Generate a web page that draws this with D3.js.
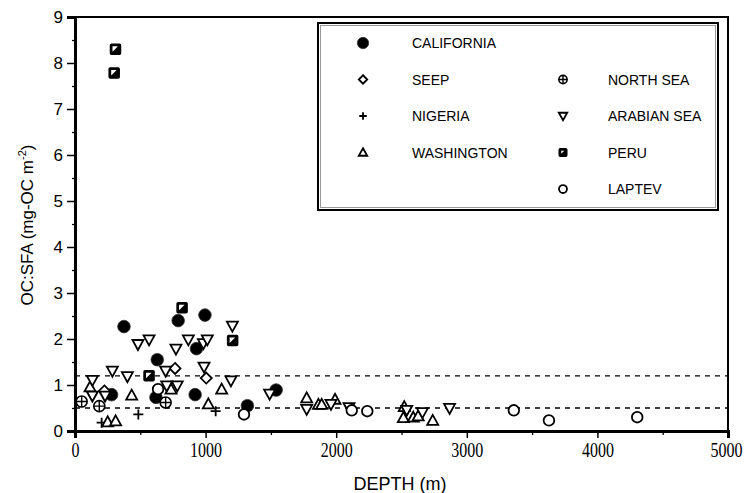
<!DOCTYPE html>
<html>
<head>
<meta charset="utf-8">
<script src="https://cdn.jsdelivr.net/npm/d3@7"></script>
<style>
  body { margin: 0; background: #fff; }
  text { fill: #000; }
</style>
</head>
<body>
<svg id="chart" width="745" height="493"></svg>
<script>
// depth (m), OC:SFA (mg-OC m-2)
let california = [[375,2.27],[790,2.4],[995,2.52],[930,1.79],[630,1.55],[280,0.79],[620,0.73],[920,0.79],[1320,0.55],[1540,0.89]];
let seep = [[225,0.87],[766,1.36],[1005,1.15]];
let nigeria = [[204,0.18],[485,0.36],[1077,0.43]];
let washington = [[434,0.78],[735,0.91],[1123,0.91],[1021,0.59],[250,0.2],[311,0.22],[115,0.96],[1774,0.72],[1864,0.58],[1889,0.58],[1991,0.69],[2521,0.53],[2514,0.29],[2590,0.3],[2628,0.33],[2739,0.23]];
let northSea = [[51,0.64],[186,0.54],[694,0.62]];
let arabianSea = [[1205,2.28],[482,1.88],[567,1.98],[868,1.98],[773,1.78],[983,1.9],[1013,1.98],[988,1.39],[286,1.3],[401,1.18],[133,1.1],[133,0.76],[230,0.76],[694,1.3],[702,0.98],[783,0.98],[1194,1.09],[1490,0.8],[1774,0.47],[1960,0.58],[2098,0.51],[2540,0.45],[2660,0.4],[2868,0.49]];
let peru = [[310,8.3],[300,7.78],[820,2.68],[1207,1.97],[567,1.2]];
let laptev = [[636,0.91],[1294,0.36],[2119,0.45],[2238,0.43],[3360,0.45],[3629,0.23],[4305,0.3]];

let refLines = [1.2, 0.5];
let xTicks = [0,1000,2000,3000,4000,5000];
let yTicks = [0,1,2,3,4,5,6,7,8,9];

let series = [
  {name:'CALIFORNIA', sym:'fcircle', data:california, col:0, row:0},
  {name:'SEEP', sym:'diamond', data:seep, col:0, row:1},
  {name:'NIGERIA', sym:'plus', data:nigeria, col:0, row:2},
  {name:'WASHINGTON', sym:'tri', data:washington, col:0, row:3},
  {name:'NORTH SEA', sym:'ocross', data:northSea, col:1, row:1},
  {name:'ARABIAN SEA', sym:'dtri', data:arabianSea, col:1, row:2},
  {name:'PERU', sym:'square', data:peru, col:1, row:3},
  {name:'LAPTEV', sym:'ocircle', data:laptev, col:1, row:4}
];

let svg = d3.select('#chart');
let mLeft = 75, mRight = 728, mTop = 17, mBottom = 431;

let sx = d3.scaleLinear().domain([0,5000]).range([mLeft,mRight]);
let sy = d3.scaleLinear().domain([0,9]).range([mBottom,mTop]);

// frame
svg.append('rect')
  .attr('x', mLeft).attr('y', mTop)
  .attr('width', mRight-mLeft).attr('height', mBottom-mTop)
  .attr('fill','none').attr('stroke','#000').attr('stroke-width',2);

// dashed reference lines
svg.selectAll('.ref')
  .data(refLines)
  .enter()
  .append('line')
  .attr('x1', sx(0)).attr('x2', sx(5000))
  .attr('y1', d=>sy(d)).attr('y2', d=>sy(d))
  .attr('stroke','#000').attr('stroke-width',1.3)
  .attr('stroke-dasharray','5,5');

// x axis (tall narrow serif digits)
let xAxis = d3.axisBottom(sx).tickValues(xTicks).tickSize(7).tickFormat(d3.format('d'));
let gx = svg.append('g').attr('transform','translate(0,'+mBottom+')').call(xAxis);
gx.select('.domain').attr('stroke-width',3);
gx.selectAll('.tick line').attr('stroke-width',1.5);
gx.selectAll('.tick text')
  .attr('y', 9.6)
  .attr('x', d=>d===5000 ? -2 : 0)
  .attr('transform','scale(1,1.25)')
  .style('font-family','"Liberation Serif", serif')
  .style('font-size','16px');
let gxm = svg.append('g').attr('transform','translate(0,'+mBottom+')')
  .call(d3.axisBottom(sx).tickValues(d3.range(500,5000,1000)).tickSize(4).tickFormat(''));
gxm.select('.domain').remove();
gxm.selectAll('.tick line').attr('stroke-width',1.3);

// y axis
let yAxis = d3.axisLeft(sy).tickValues(yTicks).tickSize(8).tickPadding(4);
let gy = svg.append('g').attr('transform','translate('+mLeft+',0)').call(yAxis);
gy.select('.domain').attr('stroke-width',3);
gy.selectAll('.tick line').attr('stroke-width',1.5);
gy.selectAll('.tick text')
  .style('font-family','"Liberation Sans", Arial, sans-serif')
  .style('font-size','17px');
let gym = svg.append('g').attr('transform','translate('+mLeft+',0)')
  .call(d3.axisLeft(sy).tickValues(d3.range(0.5,9,1)).tickSize(3).tickFormat(''));
gym.select('.domain').remove();
gym.selectAll('.tick line').attr('stroke-width',1.3);

// axis titles
svg.append('text')
  .attr('x', 400).attr('y', 490)
  .attr('text-anchor','middle')
  .style('font-family','"Liberation Sans", Arial, sans-serif')
  .style('font-size','18px')
  .text('DEPTH (m)');

let yt = svg.append('text')
  .attr('transform','translate(33,225) rotate(-90)')
  .attr('text-anchor','middle')
  .style('font-family','"Liberation Sans", Arial, sans-serif')
  .style('font-size','17px');
yt.append('tspan').text('OC:SFA (mg-OC m');
yt.append('tspan').attr('dy',-7).style('font-size','11px').text('-2');
yt.append('tspan').attr('dy',7).text(')');

// marker drawing
function drawSymbol(g, sym, k){
  let s = 5*k;
  if(sym==='fcircle'){
    g.append('circle').attr('r', 6.3*k).attr('fill','#000').attr('stroke','#333').attr('stroke-width',0.8);
  } else if(sym==='ocircle'){
    g.append('circle').attr('r', 5.3*k).attr('fill','#fff').attr('stroke','#000').attr('stroke-width',1.8);
  } else if(sym==='diamond'){
    g.append('path').attr('d','M0,'+(-s-0.5)+'L'+(s+0.5)+',0L0,'+(s+0.5)+'L'+(-s-0.5)+',0Z')
      .attr('fill','#fff').attr('stroke','#000').attr('stroke-width',1.8);
  } else if(sym==='plus'){
    g.append('path').attr('d','M'+(-s)+',0H'+s+'M0,'+(-s)+'V'+s)
      .attr('stroke','#000').attr('stroke-width',1.8);
  } else if(sym==='tri'){
    g.append('path').attr('d','M0,'+(-s-0.5)+'L'+(s+0.5)+','+(s-0.5)+'L'+(-s-0.5)+','+(s-0.5)+'Z')
      .attr('fill','#fff').attr('stroke','#000').attr('stroke-width',1.8);
  } else if(sym==='dtri'){
    g.append('path').attr('d','M0,'+(s+0.5)+'L'+(s+0.5)+','+(-s+0.5)+'L'+(-s-0.5)+','+(-s+0.5)+'Z')
      .attr('fill','#fff').attr('stroke','#000').attr('stroke-width',1.8);
  } else if(sym==='ocross'){
    g.append('circle').attr('r', 5.5*k).attr('fill','#fff').attr('stroke','#000').attr('stroke-width',1.6);
    g.append('path').attr('d','M'+(-5.5*k)+',0H'+(5.5*k)+'M0,'+(-5.5*k)+'V'+(5.5*k))
      .attr('stroke','#000').attr('stroke-width',1.4);
  } else if(sym==='square'){
    g.append('rect').attr('x',-s).attr('y',-s).attr('width',2*s).attr('height',2*s)
      .attr('fill','#000').attr('stroke','#000').attr('stroke-width',1.5).attr('rx',1);
    g.append('path').attr('d','M'+(-s+2)+','+(s-2.5)+'L'+(s-2.5)+','+(-s+2)+'L'+(-s+2)+','+(-s+2)+'Z')
      .attr('fill','#fff');
  }
}

let plot = svg.append('g');
series.forEach(function(se){
  plot.selectAll('.pt-'+se.sym)
    .data(se.data)
    .enter()
    .append('g')
    .attr('class','pt-'+se.sym)
    .attr('transform', d=>'translate('+sx(d[0])+','+sy(d[1])+')')
    .each(function(){ drawSymbol(d3.select(this), se.sym, 1); });
});

// legend
let lg = svg.append('g');
lg.append('rect')
  .attr('x',318).attr('y',23).attr('width',400).attr('height',187)
  .attr('fill','#fff').attr('stroke','#000').attr('stroke-width',2);
lg.append('rect')
  .attr('x',320.5).attr('y',25.5).attr('width',395).attr('height',182)
  .attr('fill','none').attr('stroke','#999').attr('stroke-width',1);
let colSym = [363,563], colText = [412,608];
let rowY = d3.scaleLinear().domain([0,4]).range([43,189]);
let items = lg.selectAll('.item')
  .data(series)
  .enter()
  .append('g')
  .attr('class','item');
items.append('g')
  .attr('transform', d=>'translate('+colSym[d.col]+','+rowY(d.row)+')')
  .each(function(d){ drawSymbol(d3.select(this), d.sym, d.sym==='fcircle' ? 0.9 : 0.75); });
items.append('text')
  .attr('x', d=>colText[d.col])
  .attr('y', d=>rowY(d.row)+5)
  .style('font-family','"Liberation Sans", Arial, sans-serif')
  .style('font-size','14px')
  .text(d=>d.name);
</script>
</body>
</html>
